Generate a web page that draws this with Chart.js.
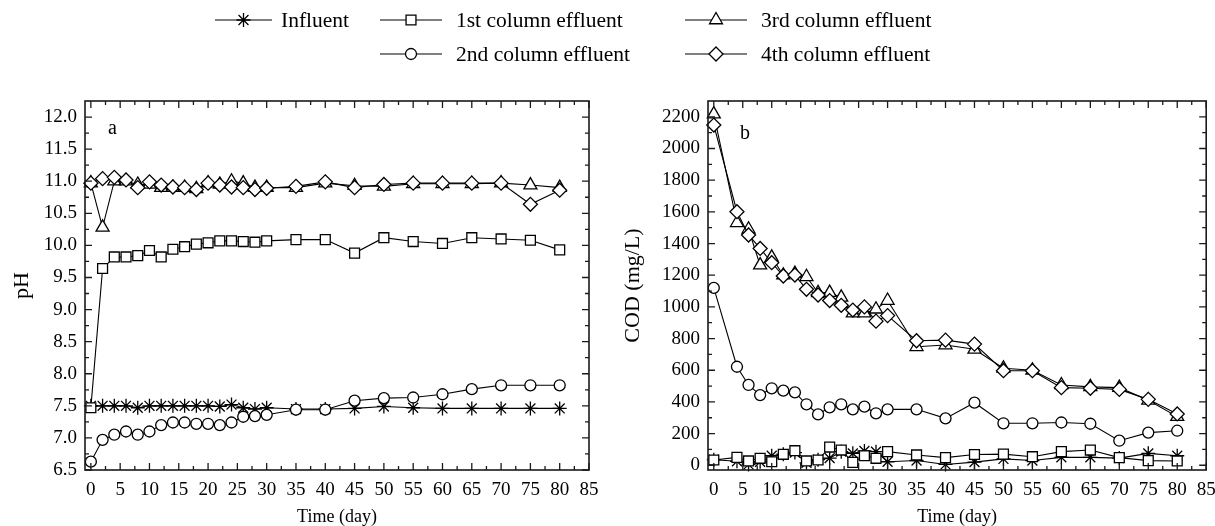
<!DOCTYPE html>
<html><head><meta charset="utf-8">
<script src="https://cdn.jsdelivr.net/npm/chart.js@4"></script>
<style>
html,body{margin:0;padding:0;background:#fff;}
body{width:1215px;height:526px;position:relative;overflow:hidden;font-family:'Liberation Serif','Times New Roman',serif;color:#000;}
canvas{position:absolute;top:0;}
#ca{left:0;}
#cb{left:607px;}
.lgt{position:absolute;font-size:21.5px;line-height:22px;white-space:nowrap;}
.lgs{position:absolute;}
.pl{position:absolute;font-size:20px;line-height:20px;}
</style></head><body>
<canvas id="ca" width="607" height="526" style="width:607px;height:526px"></canvas>
<canvas id="cb" width="608" height="526" style="width:608px;height:526px"></canvas>
<div id="legend"></div>
<div class="pl" style="left:108px;top:117px">a</div>
<div class="pl" style="left:740px;top:122px">b</div>
<script>
// ---------- data ----------
const seriesNames = ['Influent', '1st column effluent', '2nd column effluent', '3rd column effluent', '4th column effluent'];
const seriesStyles = ['star', 'rect', 'circle', 'triangle', 'rectRot'];

// panel a : pH
const daysA = [0,2,4,6,8,10,12,14,16,18,20,22,24,26,28,30,35,40,45,50,55,60,65,70,75,80];
const influentA = [7.50,7.50,7.50,7.50,7.47,7.50,7.50,7.50,7.50,7.50,7.50,7.49,7.52,7.47,7.45,7.47,7.45,7.45,7.46,7.49,7.47,7.46,7.46,7.46,7.46,7.46];
const col1A = [7.47,9.64,9.82,9.82,9.84,9.92,9.82,9.94,9.98,10.02,10.04,10.07,10.07,10.06,10.05,10.07,10.09,10.09,9.88,10.12,10.06,10.03,10.12,10.10,10.08,9.93];
const col2A = [6.63,6.97,7.05,7.10,7.05,7.10,7.20,7.24,7.24,7.22,7.22,7.20,7.24,7.33,7.34,7.36,7.44,7.44,7.58,7.62,7.63,7.68,7.76,7.82,7.82,7.82];
const col3A = [10.97,10.28,11.00,11.00,10.95,10.95,10.90,10.90,10.90,10.88,10.97,10.95,11.00,10.97,10.90,10.90,10.90,10.97,10.93,10.92,10.96,10.96,10.96,10.97,10.94,10.90];
const col4A = [10.97,11.04,11.06,11.02,10.90,10.99,10.94,10.91,10.90,10.87,10.97,10.94,10.91,10.90,10.87,10.89,10.92,10.99,10.90,10.95,10.97,10.97,10.97,10.97,10.64,10.86];
const xTicksA = [0,5,10,15,20,25,30,35,40,45,50,55,60,65,70,75,80,85];
const yTicksA = [6.5,7.0,7.5,8.0,8.5,9.0,9.5,10.0,10.5,11.0,11.5,12.0];

// panel b : COD (mg/L)
const daysB = [0,4,6,8,10,12,14,16,18,20,22,24,26,28,30,35,40,45,50,55,60,65,70,75,80];
const influentB = [35,25,5,22,60,70,80,15,35,45,86,75,90,86,22,30,5,20,40,30,50,50,45,75,60];
const col1B = [33,50,27,44,22,69,92,27,33,115,96,18,60,44,86,65,48,68,70,54,86,96,48,29,27];
const col2B = [1120,622,507,443,486,471,460,385,321,366,385,353,370,328,353,353,296,395,265,265,270,262,155,206,218];
const col3B = [2217,1531,1490,1264,1313,1200,1210,1190,1089,1090,1060,960,960,985,1040,748,759,732,612,600,507,495,490,410,307];
const col4B = [2148,1601,1454,1369,1279,1195,1201,1111,1075,1040,1010,980,1000,910,945,786,790,765,597,597,490,486,479,416,324];
const xTicksB = [0,5,10,15,20,25,30,35,40,45,50,55,60,65,70,75,80,85];
const yTicksB = [0,200,400,600,800,1000,1200,1400,1600,1800,2000,2200];

// ---------- styling ----------
const FONT = "'Liberation Serif', 'Times New Roman', serif";
Chart.defaults.font.family = FONT;
Chart.defaults.color = '#000';
const pointRadius = {star: 7, rect: 7, circle: 5.5, triangle: 7.5, rectRot: 7};

function ds(i, xs, ys) {
  const st = seriesStyles[i];
  return {
    label: seriesNames[i],
    data: xs.map((x, k) => ({x, y: ys[k]})),
    borderColor: '#000', borderWidth: 1.1,
    pointStyle: st, pointRadius: pointRadius[st], pointHoverRadius: pointRadius[st],
    pointBackgroundColor: '#fff', pointBorderColor: '#000', pointBorderWidth: 1.3,
    tension: 0, clip: false, fill: false
  };
}

const framePlugin = {
  id: 'frame',
  afterDraw(chart, args, o) {
    const {ctx, chartArea: a} = chart;
    const x = chart.scales.x, y = chart.scales.y;
    ctx.save();
    ctx.strokeStyle = '#1a1a1a';
    ctx.lineWidth = 1.6;
    ctx.strokeRect(a.left, a.top, a.right - a.left, a.bottom - a.top);
    ctx.lineWidth = 1.3;
    const mid = arr => arr.slice(0, -1).map((v, i) => (v + arr[i + 1]) / 2);
    const xMaj = o.xTicks, yMaj = o.yTicks;
    const xMin = mid(xMaj), yMin = mid(yMaj);
    const tickX = (v, len) => {
      const p = x.getPixelForValue(v);
      if (p < a.left || p > a.right) return;
      ctx.beginPath();
      ctx.moveTo(p, a.bottom); ctx.lineTo(p, a.bottom - len);
      ctx.moveTo(p, a.top); ctx.lineTo(p, a.top + len);
      ctx.stroke();
    };
    const tickY = (v, len) => {
      const p = y.getPixelForValue(v);
      if (p < a.top || p > a.bottom) return;
      ctx.beginPath();
      ctx.moveTo(a.left, p); ctx.lineTo(a.left + len, p);
      ctx.moveTo(a.right, p); ctx.lineTo(a.right - len, p);
      ctx.stroke();
    };
    xMaj.forEach(v => tickX(v, 7));
    xMin.forEach(v => tickX(v, 4));
    yMaj.forEach(v => tickY(v, 7));
    yMin.forEach(v => tickY(v, 4));
    ctx.restore();
  }
};

function makeChart(id, cfg) {
  const fixed = (w, h) => s => {
    if (w !== null) s.width = w;
    if (h !== null) s.height = h;
    s.paddingLeft = s.paddingRight = s.paddingTop = s.paddingBottom = 0;
  };
  return new Chart(document.getElementById(id), {
    type: 'line',
    data: {datasets: cfg.datasets},
    options: {
      responsive: false, animation: false, events: [],
      layout: {padding: {left: 0, top: 101, right: cfg.padRight, bottom: 0}},
      plugins: {legend: {display: false}, tooltip: {enabled: false},
        frame: {xTicks: cfg.xTicks, yTicks: cfg.yTicks}},
      scales: {
        x: {
          type: 'linear', min: -1, max: 85,
          grid: {display: false, drawTicks: false}, border: {display: false},
          afterBuildTicks: s => { s.ticks = cfg.xTicks.map(v => ({value: v})); },
          afterFit: fixed(null, 56),
          ticks: {padding: 9, maxRotation: 0, autoSkip: false, font: {size: 19, family: FONT}, color: '#000'},
          title: {display: true, text: 'Time (day)', font: {size: 18, family: FONT, lineHeight: 1}, padding: {top: 0, bottom: 0}, color: '#000'}
        },
        y: {
          type: 'linear', min: cfg.yMin, max: cfg.yMax,
          grid: {display: false, drawTicks: false}, border: {display: false},
          afterBuildTicks: s => { s.ticks = cfg.yTicks.map(v => ({value: v})); },
          afterFit: fixed(cfg.yWidth, null),
          ticks: {padding: 8, autoSkip: false, font: {size: 19, family: FONT}, color: '#000', callback: cfg.yFmt},
          title: {display: true, text: cfg.yTitle, font: {size: 22, family: FONT, lineHeight: 1}, padding: {top: cfg.yTitlePad, bottom: 0}, color: '#000'}
        }
      }
    },
    plugins: [framePlugin]
  });
}

// dataset order: index 0 is drawn on top
makeChart('ca', {
  datasets: [ds(4, daysA, col4A), ds(3, daysA, col3A), ds(1, daysA, col1A), ds(2, daysA, col2A), ds(0, daysA, influentA)],
  xTicks: xTicksA, yTicks: yTicksA, yMin: 6.5, yMax: 12.25, yWidth: 85, padRight: 18,
  yTitle: 'pH', yTitlePad: 11, yFmt: v => Number(v).toFixed(1)
});
makeChart('cb', {
  datasets: [ds(4, daysB, col4B), ds(3, daysB, col3B), ds(1, daysB, col1B), ds(2, daysB, col2B), ds(0, daysB, influentB)],
  xTicks: xTicksB, yTicks: yTicksB, yMin: -30, yMax: 2300, yWidth: 101, padRight: 8,
  yTitle: 'COD (mg/L)', yTitlePad: 15, yFmt: v => String(v)
});

// ---------- legend ----------
const legendItems = [
  {i: 0, lineX: 215, lineW: 57, textX: 281, y: 20},
  {i: 1, lineX: 380, lineW: 62, textX: 456, y: 20},
  {i: 3, lineX: 685, lineW: 62, textX: 761, y: 20},
  {i: 2, lineX: 380, lineW: 62, textX: 456, y: 54},
  {i: 4, lineX: 685, lineW: 62, textX: 761, y: 54}
];
const lg = document.getElementById('legend');
legendItems.forEach(it => {
  const c = document.createElement('canvas');
  c.width = it.lineW + 4; c.height = 24;
  c.className = 'lgs';
  c.style.left = (it.lineX - 2) + 'px';
  c.style.top = (it.y - 12) + 'px';
  c.style.width = c.width + 'px'; c.style.height = c.height + 'px';
  lg.appendChild(c);
  const g = c.getContext('2d');
  g.strokeStyle = '#000'; g.lineWidth = 1.1;
  g.beginPath(); g.moveTo(2, 12); g.lineTo(2 + it.lineW, 12); g.stroke();
  const st = seriesStyles[it.i];
  g.fillStyle = '#fff'; g.lineWidth = 1.3;
  Chart.helpers.drawPoint(g, {pointStyle: st, radius: pointRadius[st], rotation: 0, borderWidth: 1.3}, 2 + it.lineW / 2, 12);
  const t = document.createElement('div');
  t.className = 'lgt';
  t.textContent = seriesNames[it.i];
  t.style.left = it.textX + 'px';
  t.style.top = (it.y - 11) + 'px';
  lg.appendChild(t);
});
</script>
</body></html>
